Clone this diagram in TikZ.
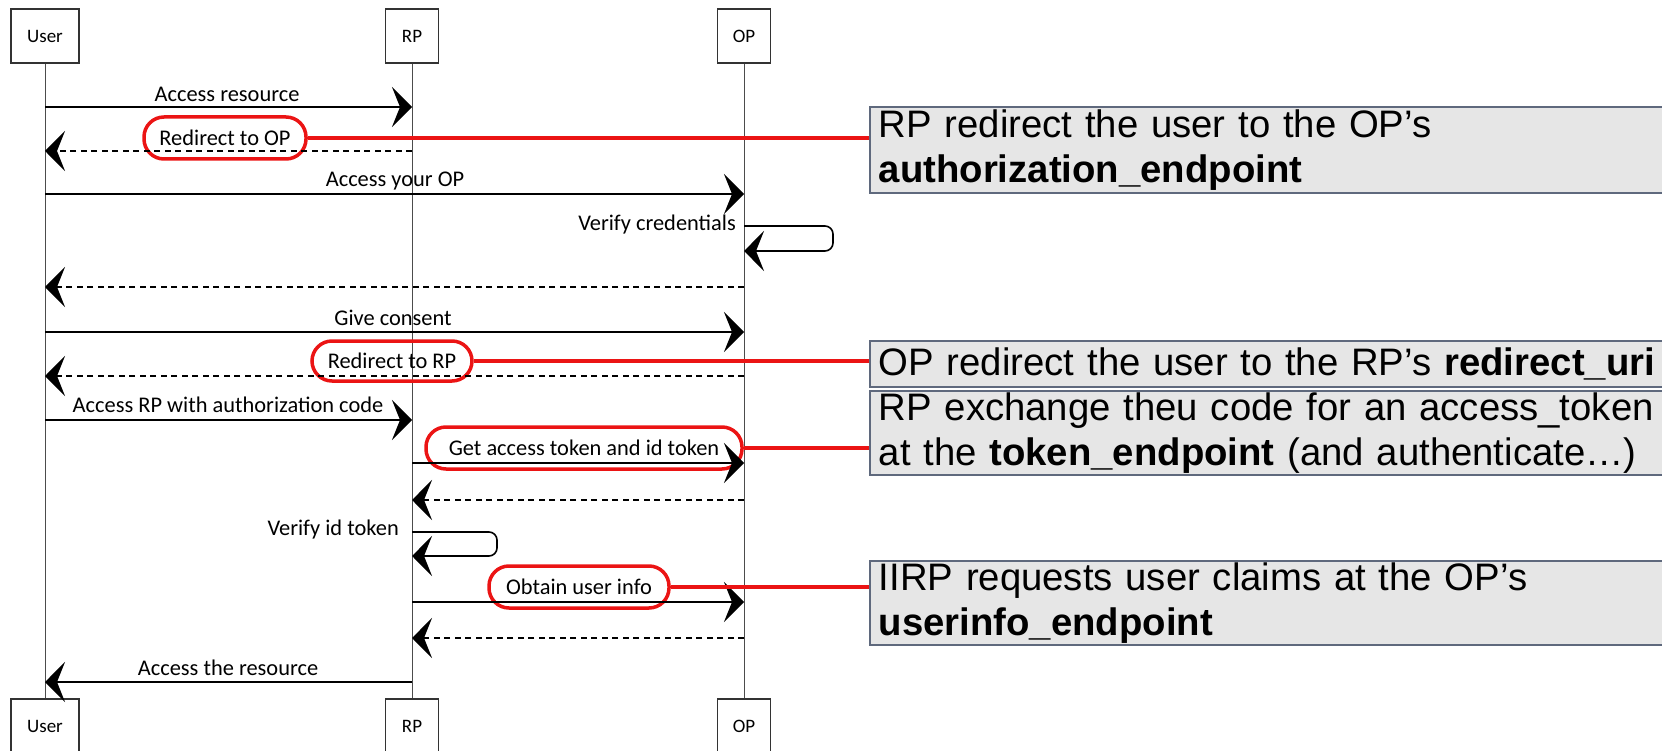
\documentclass[tikz,border=0pt]{standalone}
\usepackage{fontspec}
\setmainfont{Liberation Sans}
\newfontfamily\sketchfont{Carlito}
\usetikzlibrary{arrows.meta,positioning}

\definecolor{notefill}{RGB}{230,230,230}
\definecolor{noteline}{RGB}{95,105,125}
\definecolor{hlred}{RGB}{235,20,20}

\tikzset{
  actor/.style={draw=black!80, line width=1.2pt, minimum width=53pt, minimum height=54pt,
    font=\sketchfont\fontsize{19}{22}\selectfont},
  life/.style={black!70, line width=1pt},
  msg/.style={line width=1.6pt, -{Stealth[length=20pt,width=40pt,inset=8pt]}},
  ret/.style={msg, dash pattern=on 6pt off 4.5pt},
  lbl/.style={font=\sketchfont\fontsize{22.4}{26}\selectfont, inner sep=1pt},
  hl/.style={lbl, draw=hlred, line width=3.5pt, rounded corners=20pt},
  note/.style={draw=noteline, fill=notefill, line width=1.6pt, anchor=north west,
    text width=790pt, align=left, inner xsep=9pt, inner ysep=1pt,
    font=\fontsize{38.3}{45}\selectfont},
  link/.style={hlred, line width=3.5pt},
}

\begin{document}
\begin{tikzpicture}[x=1pt,y=-1pt]
  \useasboundingbox (0,0) rectangle (1662,751);
  % participants, top and bottom
  \node[actor, minimum width=68pt] (user) at (45,36) {User};
  \node[actor] (rp) at (412,36) {RP};
  \node[actor] (op) at (744,36) {OP};
  \node[actor, minimum width=68pt] (userB) at (45,726) {User};
  \node[actor] (rpB) at (412,726) {RP};
  \node[actor] (opB) at (744,726) {OP};
  \draw[life] (user) -- (userB);                      % lifeline user
  \draw[life] (rp) -- (rpB);                          % lifeline RP
  \draw[life] (op) -- (opB);                          % lifeline OP

  % messages
  \node[lbl] (accres) at (227,94) {Access resource};
  \draw[msg] (user |- 0,107) -- (rp |- 0,107);
  \node[hl, minimum width=162pt, minimum height=42pt] (toop) at (225,138) {Redirect to OP};
  \draw[ret] (rp |- 0,151) -- (user |- 0,151);
  \node[lbl] (accop) at (395,181) {Access your OP};
  \draw[msg] (user |- 0,194) -- (op |- 0,194);
  \node[lbl, anchor=east] (vercred) at (737,225) {Verify credentials};
  \draw[msg, rounded corners=8pt] (op |- 0,226) -- (833,226) -- (833,251) -- (op |- 0,251);
  \draw[ret] (op |- 0,287) -- (user |- 0,287);
  \node[lbl] (consent) at (393,318) {Give consent};
  \draw[msg] (user |- 0,332) -- (op |- 0,332);
  \node[hl, minimum width=160pt, minimum height=40pt] (torp) at (392,361) {Redirect to RP};
  \draw[ret] (op |- 0,376) -- (user |- 0,376);
  \node[lbl] (acccode) at (228,405) {Access RP with authorization code};
  \draw[msg] (user |- 0,420) -- (rp |- 0,420);
  \node[hl, minimum width=316pt, minimum height=42pt] (gettok) at (584,448) {Get access token and id token};
  \draw[msg] (rp |- 0,463) -- (op |- 0,463);
  \draw[ret] (op |- 0,500) -- (rp |- 0,500);
  \node[lbl, anchor=east] (verid) at (400,530) {Verify id token};
  \draw[msg, rounded corners=8pt] (rp |- 0,532) -- (497,532) -- (497,556) -- (rp |- 0,556);
  \node[hl, minimum width=180pt, minimum height=42pt] (userinfo) at (579,587) {Obtain user info};
  \draw[msg] (rp |- 0,602) -- (op |- 0,602);
  \draw[ret] (op |- 0,638) -- (rp |- 0,638);
  \node[lbl] (accthe) at (228,668) {Access the resource};
  \draw[msg] (rp |- 0,682) -- (user |- 0,682);

  % notes on the right
  \node[note, minimum height=86pt] (note1) at (869,106)
    {RP redirect the user to the OP’s\\\textbf{authorization\_endpoint}};
  \node[note, minimum height=46pt] (note2) at (869,340)
    {OP redirect the user to the RP’s \textbf{redirect\_uri}};
  \node[note, minimum height=84pt] (note3) at (869,390)
    {RP exchange theu code for an access\_token\\at the \textbf{token\_endpoint} (and authenticate…)};
  \node[note, minimum height=84pt] (note4) at (869,560)
    {IIRP requests user claims at the OP’s\\\textbf{userinfo\_endpoint}};
  \draw[link] (toop.east) -- (toop.east -| note1.west);
  \draw[link] (torp.east) -- (torp.east -| note2.west);
  \draw[link] (gettok.east) -- (gettok.east -| note3.west);
  \draw[link] (userinfo.east) -- (userinfo.east -| note4.west);
\end{tikzpicture}
\end{document}
